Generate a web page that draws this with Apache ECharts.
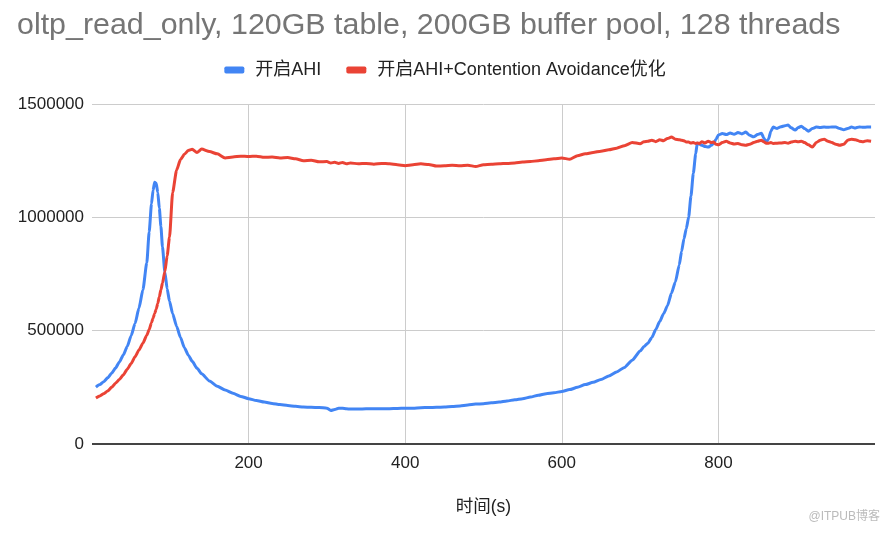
<!DOCTYPE html>
<html>
<head>
<meta charset="utf-8">
<script src="https://cdn.jsdelivr.net/npm/echarts@6/dist/echarts.min.js"></script>
<style>
html,body{margin:0;padding:0;background:#fff;}
#chart{width:890px;height:533px;}
</style>
</head>
<body>
<div id="chart"></div>
<script>
var titleText = 'oltp_read_only, 120GB table, 200GB buffer pool, 128 threads';
var seriesNames = ['开启AHI', '开启AHI+Contention Avoidance优化'];
var xAxisName = '时间(s)';
var watermark = '@ITPUB博客';

// time in seconds
var times = [5,10,15,20,25,30,35,40,45,50,55,60,65,70,73,76,78,80,82,84,86,88,90,93,96,99,103,108,113,118,123,128,134,140,150,160,170,180,190,200,210,220,230,240,250,260,270,280,290,300,305,310,315,320,325,330,340,350,360,370,380,390,400,410,420,430,440,450,460,470,480,490,500,510,520,530,540,550,560,570,580,590,600,610,620,630,640,650,660,670,680,690,700,705,710,715,720,725,730,735,740,745,750,753,756,759,762,765,768,771,773,776,779,783,787,791,794,797,800,805,810,815,820,825,830,835,840,845,850,855,858,861,864,867,870,875,880,885,889,893,898,902,906,910,915,920,925,930,935,940,945,950,955,960,965,970,975,980,985,990,995];

// 开启AHI (thousands of QPS)
var ahi = [251,262,275,292,312,335,362,393,430,478,532,600,680,800,935,1060,1120,1155,1150,1110,1040,960,870,760,685,630,575,520,470,425,392,365,335,310,278,255,238,224,210,200,192,185,179,174,170,166,163,162,161,158,148,152,158,158,155,154,154,155,155,156,156,157,158,158,160,161,162,163,165,168,172,176,178,182,185,190,195,200,207,215,222,226,232,240,250,262,272,285,300,318,338,370,410,430,445,470,505,540,575,610,665,715,790,850,905,950,1001,1095,1195,1280,1327,1322,1318,1312,1310,1318,1327,1345,1363,1370,1365,1372,1366,1374,1368,1376,1362,1355,1365,1371,1350,1332,1345,1380,1398,1392,1400,1404,1407,1395,1385,1396,1402,1392,1380,1392,1398,1396,1398,1397,1399,1398,1392,1386,1392,1398,1394,1399,1397,1398,1398];

// 开启AHI+Contention Avoidance优化 (thousands of QPS)
var ahiCA = [203,212,222,234,250,268,285,305,330,355,385,415,445,480,505,535,555,575,595,620,650,680,710,760,830,913,1110,1208,1255,1278,1295,1300,1286,1301,1290,1280,1262,1266,1270,1268,1270,1265,1266,1262,1264,1258,1250,1252,1245,1246,1240,1243,1238,1242,1236,1240,1236,1238,1234,1238,1236,1232,1228,1232,1236,1233,1226,1228,1230,1228,1230,1224,1232,1234,1236,1238,1240,1244,1246,1250,1254,1258,1262,1256,1272,1280,1286,1292,1298,1305,1316,1330,1325,1334,1336,1340,1334,1342,1338,1348,1354,1345,1342,1340,1338,1332,1332,1328,1330,1326,1328,1326,1334,1328,1336,1330,1332,1322,1320,1330,1336,1328,1324,1326,1320,1318,1322,1330,1336,1340,1333,1327,1327,1330,1326,1327,1328,1330,1327,1332,1336,1334,1336,1330,1320,1310,1330,1340,1345,1336,1330,1322,1318,1322,1340,1345,1342,1336,1334,1338,1336];

var xTicks = [200, 400, 600, 800];
var yTicks = [0, 500000, 1000000, 1500000];

function pairs(vals) {
  return times.map(function (t, i) { return [t, vals[i] * 1000]; });
}

var FONT = '"Liberation Sans", Arial, "Noto Sans CJK SC", sans-serif';
var chart = echarts.init(document.getElementById('chart'), null, {renderer: 'canvas'});
chart.setOption({
  animation: false,
  color: ['#4285F4', '#EA4335'],
  title: {
    text: titleText,
    left: 12,
    top: 5,
    textStyle: {fontFamily: FONT, fontSize: 30.4, fontWeight: 'normal', color: '#757575'}
  },
  legend: {
    top: 56,
    left: 'center',
    itemWidth: 20,
    itemHeight: 7,
    itemGap: 25,
    icon: 'roundRect',
    textStyle: {fontFamily: FONT, fontSize: 18, color: '#222', padding: [0, 0, 0, 6]},
    data: seriesNames
  },
  graphic: [{
    type: 'text',
    right: 10,
    top: 511,
    style: {text: watermark, fill: '#bbb', font: '12px ' + FONT}
  }],
  grid: {left: 92, right: 15, top: 104, bottom: 89, containLabel: false},
  xAxis: {
    type: 'value',
    min: 0,
    max: 1000,
    interval: 200,
    name: xAxisName,
    nameLocation: 'middle',
    nameGap: 54,
    nameTextStyle: {fontFamily: FONT, fontSize: 17.5, color: '#222'},
    axisLine: {show: false},
    axisTick: {show: false},
    axisLabel: {
      fontFamily: FONT, fontSize: 17, color: '#222', margin: 11,
      showMinLabel: false, showMaxLabel: false,
      formatter: function (v) { return xTicks.indexOf(v) >= 0 ? String(v) : ''; }
    },
    splitLine: {show: true, showMinLine: false, showMaxLine: false, lineStyle: {color: '#cccccc', width: 1}}
  },
  yAxis: {
    type: 'value',
    min: 0,
    max: 1500000,
    interval: 500000,
    axisLine: {show: false},
    axisTick: {show: false},
    axisLabel: {
      fontFamily: FONT, fontSize: 17, color: '#222', margin: 8,
      formatter: function (v) { return yTicks.indexOf(v) >= 0 ? String(v) : ''; }
    },
    splitLine: {show: true, showMinLine: false, lineStyle: {color: '#cccccc', width: 1}}
  },
  series: [
    {
      name: seriesNames[0], type: 'line', data: pairs(ahi), showSymbol: false,
      smooth: 0.2, smoothMonotone: 'x',
      lineStyle: {width: 3, color: '#4285F4'}, z: 3
    },
    {
      name: seriesNames[1], type: 'line', data: pairs(ahiCA), showSymbol: false,
      smooth: 0.2, smoothMonotone: 'x',
      lineStyle: {width: 3, color: '#EA4335'}, z: 4,
      markLine: {
        silent: true, symbol: 'none', label: {show: false},
        lineStyle: {color: '#444', width: 2, type: 'solid'},
        data: [{yAxis: 0}]
      }
    }
  ]
});
</script>
</body>
</html>
